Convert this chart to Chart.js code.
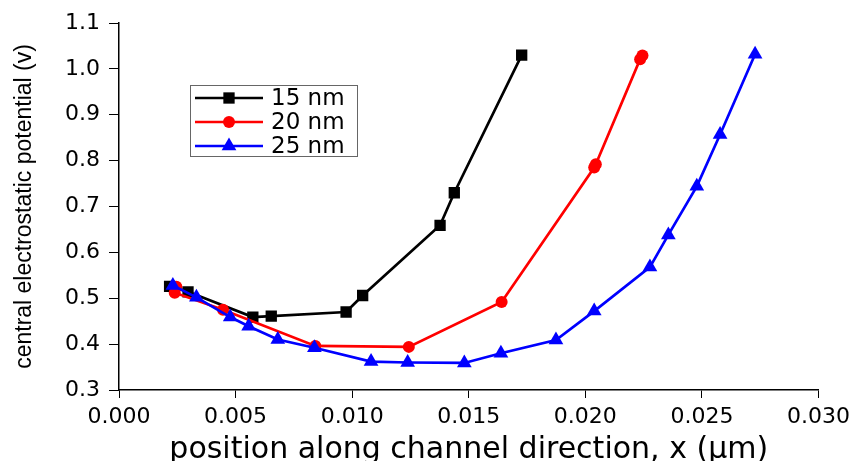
<!DOCTYPE html>
<html>
<head>
<meta charset="utf-8">
<title>central electrostatic potential</title>
<script src="https://cdn.jsdelivr.net/npm/chart.js@4.4.1/dist/chart.umd.min.js"></script>
<style>
    html, body { margin: 0; padding: 0; background: #fff; }
</style>
</head>
<body>
<canvas id="Chart" width="858" height="461"></canvas>
<script>
// values (x in um, potential in V)
const x15 = [0.00217, 0.00296, 0.00574, 0.00653, 0.00974, 0.01045, 0.01377, 0.01438, 0.01727];
const v15 = [0.526, 0.514, 0.459, 0.461, 0.470, 0.506, 0.659, 0.730, 1.030];

const x20 = [0.00246, 0.00239, 0.00446, 0.00842, 0.01243, 0.01641, 0.02038, 0.02045, 0.02235, 0.02245];
const v20 = [0.525, 0.512, 0.475, 0.396, 0.394, 0.492, 0.785, 0.792, 1.021, 1.029];

const x25 = [0.00231, 0.00332, 0.00477, 0.00556, 0.00681, 0.00838, 0.01081, 0.01238, 0.01481, 0.01638, 0.01874, 0.02038, 0.02277, 0.02356, 0.02478, 0.02578, 0.02728];
const v25 = [0.528, 0.502, 0.459, 0.439, 0.410, 0.392, 0.362, 0.360, 0.359, 0.380, 0.409, 0.472, 0.568, 0.638, 0.744, 0.857, 1.032];

const seriesNames = ['15 nm', '20 nm', '25 nm'];
const xTicksMin = 0, xTicksMax = 0.030, xStep = 0.005;
const yTicksMin = 0.3, yTicksMax = 1.1, yStep = 0.1;

function pts(xs, ys) {
    return xs.map((x, i) => ({ x: x, y: ys[i] }));
}

// legend drawn inside the plot, like the original
const boxLegend = {
    id: 'boxLegend',
    afterDatasetsDraw(chart) {
        const c = chart.ctx;
        c.save();
        c.strokeStyle = '#666';
        c.lineWidth = 1;
        c.strokeRect(190.5, 85.5, 167, 71);
        chart.data.datasets.forEach((ds, i) => {
            const y = 98 + i * 24;
            c.strokeStyle = ds.borderColor;
            c.lineWidth = 2.5;
            c.beginPath();
            c.moveTo(195, y);
            c.lineTo(263, y);
            c.stroke();
            c.fillStyle = ds.pointBackgroundColor;
            Chart.helpers.drawPoint(c, { pointStyle: ds.pointStyle, radius: ds.pointRadius, borderWidth: 0 }, 229, y);
            c.fillStyle = '#000';
            c.font = '23px "DejaVu Sans"';
            c.textBaseline = 'middle';
            c.textAlign = 'left';
            c.fillText(ds.label, 271, y + 1);
        });
        c.restore();
    }
};

const ctx = document.getElementById('Chart').getContext('2d');
const myChart = new Chart(ctx, {
    type: 'scatter',
    data: {
        datasets: [{
            label: seriesNames[0],
            data: pts(x15, v15),
            showLine: true,
            borderColor: '#000000',
            backgroundColor: '#000000',
            pointBackgroundColor: '#000000',
            pointBorderWidth: 0,
            pointStyle: 'rect',
            pointRadius: 8,
            borderWidth: 2.7,
            order: 2
        }, {
            label: seriesNames[1],
            data: pts(x20, v20),
            showLine: true,
            borderColor: '#ff0000',
            backgroundColor: '#ff0000',
            pointBackgroundColor: '#ff0000',
            pointBorderWidth: 0,
            pointStyle: 'circle',
            pointRadius: 6,
            borderWidth: 2.7,
            order: 1
        }, {
            label: seriesNames[2],
            data: pts(x25, v25),
            showLine: true,
            borderColor: '#0000ff',
            backgroundColor: '#0000ff',
            pointBackgroundColor: '#0000ff',
            pointBorderWidth: 0,
            pointStyle: 'triangle',
            pointRadius: 8.5,
            borderWidth: 2.7,
            order: 0
        }]
    },
    options: {
        responsive: false,
        animation: false,
        layout: { padding: { left: 0, top: 23, right: 39.5, bottom: 0 } },
        plugins: {
            legend: { display: false },
            tooltip: { enabled: false }
        },
        scales: {
            x: {
                type: 'linear',
                min: xTicksMin,
                max: xTicksMax,
                afterFit: (s) => { s.height = 71; },
                border: { display: true, color: '#000', width: 1.5 },
                grid: { drawOnChartArea: false, drawTicks: true, tickLength: 8, color: '#000', lineWidth: 1 },
                ticks: {
                    stepSize: xStep,
                    color: '#000',
                    padding: 6,
                    maxRotation: 0,
                    font: { family: 'DejaVu Sans', size: 22 },
                    callback: (v) => v.toFixed(3)
                },
                title: {
                    display: true,
                    text: 'position along channel direction, x (\u03bcm)',
                    color: '#000',
                    font: { family: 'DejaVu Sans', size: 30, lineHeight: 0.75 },
                    padding: { top: 0, bottom: 0 }
                }
            },
            y: {
                type: 'linear',
                min: yTicksMin,
                max: yTicksMax,
                afterFit: (s) => { s.width = 119; },
                border: { display: true, color: '#000', width: 1.5 },
                grid: { drawOnChartArea: false, drawTicks: true, tickLength: 10, color: '#000', lineWidth: 1 },
                ticks: {
                    stepSize: yStep,
                    color: '#000',
                    padding: 9,
                    font: { family: 'DejaVu Sans', size: 22 },
                    callback: (v) => v.toFixed(1)
                },
                title: {
                    display: true,
                    text: 'central electrostatic potential (v)',
                    color: '#000',
                    font: { family: 'Liberation Sans', size: 23, lineHeight: 1.2 },
                    padding: { top: 11, bottom: 0 }
                }
            }
        }
    },
    plugins: [boxLegend]
});
</script>
</body>
</html>
